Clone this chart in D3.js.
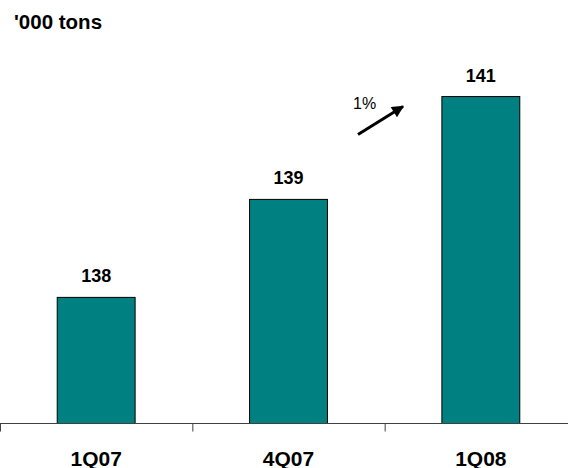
<!DOCTYPE html>
<html>
<head>
<meta charset="utf-8">
<script src="https://cdn.jsdelivr.net/npm/d3@7"></script>
<style>
  html, body { margin: 0; padding: 0; background: #fff; }
  svg { display: block; font-family: Arial, "Liberation Sans", Helvetica, sans-serif; }
</style>
</head>
<body>
<svg id="chart" width="568" height="468"></svg>
<script>
// Quarterly volumes, thousand tons
const categories = ["1Q07", "4Q07", "1Q08"];
const volumes = [138.45, 139.46, 140.52];
const unitLabel = "'000 tons";
const changeLabel = "1%";

const svg = d3.select("#chart");
const W = 568, baseY = 423.5;

const x = d3.scaleBand()
  .domain(categories)
  .range([0, 577])
  .paddingInner(0.595)
  .paddingOuter(0.2975);

const y = d3.scaleLinear()
  .domain([137.15, 141])
  .range([baseY, 50]);

const fmt = d3.format(".0f");

// bars
svg.append("g").selectAll("rect")
  .data(volumes)
  .join("rect")
  .attr("x", (d, i) => x(categories[i]))
  .attr("y", d => y(d))
  .attr("width", x.bandwidth())
  .attr("height", d => baseY - y(d))
  .attr("fill", "#008080")
  .attr("stroke", "#000")
  .attr("stroke-width", 1);

// value labels
svg.append("g").selectAll("text")
  .data(volumes)
  .join("text")
  .attr("x", (d, i) => x(categories[i]) + x.bandwidth() / 2)
  .attr("y", d => y(d) - 15)
  .attr("text-anchor", "middle")
  .attr("font-size", 18)
  .attr("font-weight", "bold")
  .attr("fill", "#000")
  .text(d => fmt(d));

// category axis: baseline with ticks on the band boundaries
const axis = svg.append("g").attr("transform", `translate(0,${baseY})`);
axis.append("line")
  .attr("x1", 0).attr("x2", W)
  .attr("y1", 0).attr("y2", 0)
  .attr("stroke", "#404040").attr("stroke-width", 1);
axis.selectAll("line.tick")
  .data(categories)
  .join("line")
  .attr("class", "tick")
  .attr("x1", d => x(d) - x.step() * x.paddingOuter() + 0.5)
  .attr("x2", d => x(d) - x.step() * x.paddingOuter() + 0.5)
  .attr("y1", 0).attr("y2", 8)
  .attr("stroke", "#404040").attr("stroke-width", 1);
axis.selectAll("text")
  .data(categories)
  .join("text")
  .attr("x", d => x(d) + x.bandwidth() / 2)
  .attr("y", 42)
  .attr("text-anchor", "middle")
  .attr("font-size", 21)
  .attr("font-weight", "bold")
  .attr("fill", "#000")
  .text(d => d);

// unit label
svg.append("text")
  .attr("x", 14).attr("y", 28.5)
  .attr("font-size", 20.5)
  .attr("font-weight", "bold")
  .attr("fill", "#000")
  .text(unitLabel);

// growth arrow
svg.append("defs").append("marker")
  .attr("id", "head")
  .attr("viewBox", "0 0 10 10")
  .attr("refX", 9).attr("refY", 5)
  .attr("markerWidth", 4.5).attr("markerHeight", 4)
  .attr("orient", "auto")
  .append("path")
  .attr("d", "M0,0 L10,5 L0,10 Z")
  .attr("fill", "#000");

svg.append("line")
  .attr("x1", 358).attr("y1", 134.5)
  .attr("x2", 403).attr("y2", 106.5)
  .attr("stroke", "#000")
  .attr("stroke-width", 3)
  .attr("marker-end", "url(#head)");

svg.append("text")
  .attr("x", 353).attr("y", 108.5)
  .attr("font-size", 16)
  .attr("fill", "#000")
  .text(changeLabel);
</script>
</body>
</html>
